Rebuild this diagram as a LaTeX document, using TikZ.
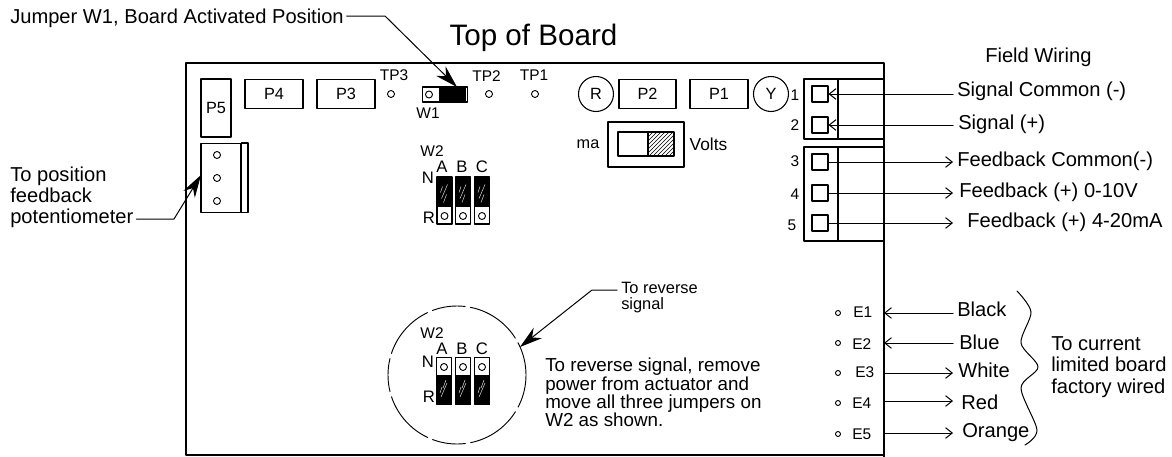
\documentclass[tikz,border=0pt]{standalone}
\usepackage{fontspec}
\setmainfont{Liberation Sans}
\usetikzlibrary{arrows.meta,patterns}
\tikzset{
 lbl/.style={inner sep=0pt,font=\fontsize{15.1}{15.9}\selectfont,align=left},
 sml/.style={inner sep=0pt,font=\fontsize{11.6}{13}\selectfont},
 abc/.style={inner sep=0pt,font=\fontsize{12.5}{13}\selectfont},
 plug/.style={draw,line width=0.8pt,minimum width=43.5,minimum height=21.75,inner sep=0pt,font=\fontsize{12.2}{13}\selectfont},
 led/.style={draw,circle,line width=0.8pt,minimum size=26.25,inner sep=0pt,font=\fontsize{12.2}{13}\selectfont},
 hole/.style={draw,circle,line width=0.7pt,minimum size=5.25,inner sep=0pt},
 term/.style={draw,line width=0.8pt,minimum size=12,inner sep=0pt},
 wire/.style={line width=0.75pt},
 wirein/.style={wire,{Straight Barb[length=5pt,width=8pt]}-},
 wireout/.style={wire,-{Straight Barb[length=5pt,width=8pt]}},
 leader/.style={wire,shorten <=2pt,-{Stealth[length=17pt,width=10pt]}}
}
% one jumper: white part with its hole, black part with scratches
\newcommand{\jumperup}[3]{
 \node[draw,line width=0.8pt,minimum width=11.25,minimum height=35.25,inner sep=0pt] (#3) at (#1,#2) {};
 \fill (#1-7.5,#2-23.5) rectangle (#1+7.5,#2+6.5);
 \draw[white,line width=0.3pt] (#1-3,#2-2)--(#1+3,#2-16) (#1-1,#2+2)--(#1+2,#2-6) (#1-4,#2-8)--(#1-2,#2-14);
 \node[hole] at (#1,#2+15.5) {};
}
\newcommand{\jumperdown}[3]{
 \node[draw,line width=0.8pt,minimum width=11.25,minimum height=35.25,inner sep=0pt] (#3) at (#1,#2) {};
 \fill (#1-7.5,#2-6.5) rectangle (#1+7.5,#2+23.5);
 \draw[white,line width=0.3pt] (#1-3,#2+16)--(#1+3,#2+2) (#1-1,#2+7)--(#1+2,#2-1) (#1-4,#2+12)--(#1-2,#2+6);
 \node[hole] at (#1,#2-14) {};
}
\begin{document}
\begin{tikzpicture}[x=0.75pt,y=-0.75pt,line join=round,line cap=round,>=stealth]
 \useasboundingbox (0,0) rectangle (1172,457);
 % board
 \draw[line width=0.8pt] (186,455)--(186,63)--(884,63)--(884,457);
 \draw[line width=0.8pt] (186,455)--(884,455);
 \node[inner sep=0pt,font=\fontsize{22.2}{24}\selectfont] (title) at (533.5,38) {Top of Board};
 % plugs along the top
 \node[plug,minimum width=22.5,minimum height=43.5] (pfive) at (216,108) {P5};
 \node[plug] (pfour) at (274,94) {P4};
 \node[plug] (pthree) at (346,94) {P3};
 \node[plug,minimum width=42.75] (ptwo) at (647.5,94) {P2};
 \node[plug] (pone) at (719,94) {P1};
 \node[led] (rled) at (596,94) {R};
 \node[led] (yled) at (771,94) {Y};
 % test points
 \node[hole] (tpthree) at (391,94) {};
 \node[hole] (tptwo) at (489,94) {};
 \node[hole] (tpone) at (535,94) {};
 \node[sml] at (394,75) {TP3};
 \node[sml] at (486.5,76) {TP2};
 \node[sml] at (534,75) {TP1};
 % jumper W1
 \node[draw,line width=0.8pt,minimum width=33.75,minimum height=11.25,inner sep=0pt] (wone) at (445,94.5) {};
 \fill (439,87)rectangle(466,102);
 \node[hole] at (429,94.5) {};
 \node[sml] at (428,113) {W1};
 \coordinate (wonetip) at (457,87);
 % feedback pot connector
 \node[draw,line width=0.8pt,minimum width=30,minimum height=51.75,inner sep=0pt] (pot) at (221,178) {};
 \draw[line width=0.8pt] (pot.north east) rectangle (248,212.5);
 \node[hole] at (217,155) {};
 \node[hole] at (217,178) {};
 \node[hole] at (217,201) {};
 \coordinate (pottip) at (201,175);
 % ma / volts switch
 \node[draw,line width=0.8pt,minimum width=57,minimum height=33.75,inner sep=0pt] (sw) at (646,144.5) {};
 \fill[pattern=north east lines] (648,132) rectangle (674,156);
 \node[draw,line width=0.8pt,minimum width=42,minimum height=18,inner sep=0pt] (swin) at (646,144) {};
 \draw[line width=0.8pt] (648,132)--(648,156);
 \node[sml,font=\fontsize{12.2}{14}\selectfont] (ma) at (588,144) {ma};
 \node[sml,font=\fontsize{13}{14}\selectfont] (volts) at (708.5,144) {Volts};
 % W2 upper
 \node[sml] at (432,151) {W2};
 \node[abc] at (442,167) {A};
 \node[abc] at (462,167) {B};
 \node[abc] at (482,167) {C};
 \node[abc] at (428,178) {N};
 \node[abc] at (429,218) {R};
 \jumperup{444.5}{200.5}{wa}
 \jumperup{463}{200.5}{wb}
 \jumperup{482}{200.5}{wc}
 % W2 detail
 \draw[line width=0.7pt,dash pattern=on 25pt off 4pt on 42pt off 4pt] (457,375) circle (69);
 \node[sml] at (432,333) {W2};
 \node[abc] at (442,349) {A};
 \node[abc] at (462,349) {B};
 \node[abc] at (482,349) {C};
 \node[abc] at (428,362) {N};
 \node[abc] at (429,397) {R};
 \jumperdown{444}{381}{da}
 \jumperdown{463}{381}{db}
 \jumperdown{482}{381}{dc}
 \coordinate (dtip) at (520,347);
 \node[inner sep=0pt,align=left,anchor=west,font=\fontsize{12.3}{12}\selectfont] (rev) at (621,298) {To reverse\\signal};
 \node[lbl,font=\fontsize{14.1}{13.8}\selectfont,anchor=west] (revtxt) at (545,392.5) {To reverse signal, remove\\power from actuator and\\move all three jumpers on\\W2 as shown.};
 % terminal blocks
 \draw[line width=0.8pt] (884,79)--(804,79)--(804,139)--(884,139) (838,79)--(838,139);
 \draw[line width=0.8pt] (884,147)--(804,147)--(804,241)--(884,241) (838,147)--(838,241);
 \node[term] (tone) at (820,94) {};
 \node[term] (ttwo) at (820,125) {};
 \node[term] (tthree) at (820,162) {};
 \node[term] (tfour) at (820,193) {};
 \node[term] (tfive) at (820,223) {};
 \node[sml] at (795,95) {1};
 \node[sml] at (795,125) {2};
 \node[sml] at (795,161) {3};
 \node[sml] at (795,194) {4};
 \node[sml] at (792,225) {5};
 % field wiring labels
 \coordinate (wireend) at (953,0);
 \node[lbl,anchor=west] (field) at (985,57) {Field Wiring};
 \node[lbl,anchor=west] (sigc) at (957,91) {Signal Common (-)};
 \node[lbl,anchor=west] (sig) at (958,124) {Signal (+)};
 \node[lbl,anchor=west] (fbc) at (957,161) {Feedback Common(-)};
 \node[lbl,anchor=west] (fbv) at (959,192) {Feedback (+) 0-10V};
 \node[lbl,anchor=west] (fbm) at (967,222) {Feedback (+) 4-20mA};
 \draw[wirein] (tone.east)--(wireend|-tone.east);
 \draw[wirein] (ttwo.east)--(wireend|-ttwo.east);
 \draw[wireout] (tthree.east)--(wireend|-tthree.east);
 \draw[wireout] (tfour.east)--(wireend|-tfour.east);
 \draw[wireout] (tfive.east)--(wireend|-tfive.east);
 % E points
 \node[sml,anchor=west] (eone) at (853,312) {E1};
 \node[sml,anchor=west] (etwo) at (852,344) {E2};
 \node[sml,anchor=west] (ethree) at (855,372) {E3};
 \node[sml,anchor=west] (efour) at (852,403) {E4};
 \node[sml,anchor=west] (efive) at (852,434) {E5};
 \foreach \n/\y in {a/313,b/343,c/373,d/403,e/434}
  \node[draw,circle,line width=0.7pt,minimum size=3.75,inner sep=0pt] (dot\n) at (838,\y) {};
 \coordinate (edge1) at (884,313);
 \coordinate (edge2) at (884,343);
 \coordinate (edge3) at (884,373);
 \coordinate (edge4) at (884,401);
 \coordinate (edge5) at (884,433);
 \node[lbl,anchor=west] (black) at (957,309) {Black};
 \node[lbl,anchor=west] (blue) at (959,342) {Blue};
 \node[lbl,anchor=west] (white) at (958,370) {White};
 \node[lbl,anchor=west] (red) at (961,402) {Red};
 \node[lbl,anchor=west] (orange) at (962,433) {Orange};
 \draw[wirein] (edge1)--(wireend|-edge1);
 \draw[wirein] (edge2)--(wireend|-edge2);
 \draw[wireout] (edge3)--(wireend|-edge3);
 \draw[wireout] (edge4)--(wireend|-edge4);
 \draw[wireout] (edge5)--(wireend|-edge5);
 \draw[wire,smooth] plot coordinates {(1017,291)(1031,312)(1021,343)(1038,367)(1021,388)(1037,430)(1025,445)};
 \node[lbl,anchor=west] (ltd) at (1051,367) {To current\\limited board\\factory wired};
 % leaders
 \node[lbl,anchor=west] (jump) at (10,18) {Jumper W1, Board Activated Position};
 \coordinate (jumpbend) at (385,16);
 \draw[leader] (jump.east|-jumpbend)--(jumpbend)--(wonetip);
 \node[lbl,anchor=west] (posn) at (10,197) {To position\\feedback\\potentiometer};
 \coordinate (posnbend) at (174,219);
 \draw[leader] (posn.east|-posnbend)--(posnbend)--(pottip);
 \coordinate (revbend) at (592,290);
 \draw[leader,shorten <=3pt] (rev.west|-revbend)--(revbend)--(dtip);
\end{tikzpicture}
\end{document}
